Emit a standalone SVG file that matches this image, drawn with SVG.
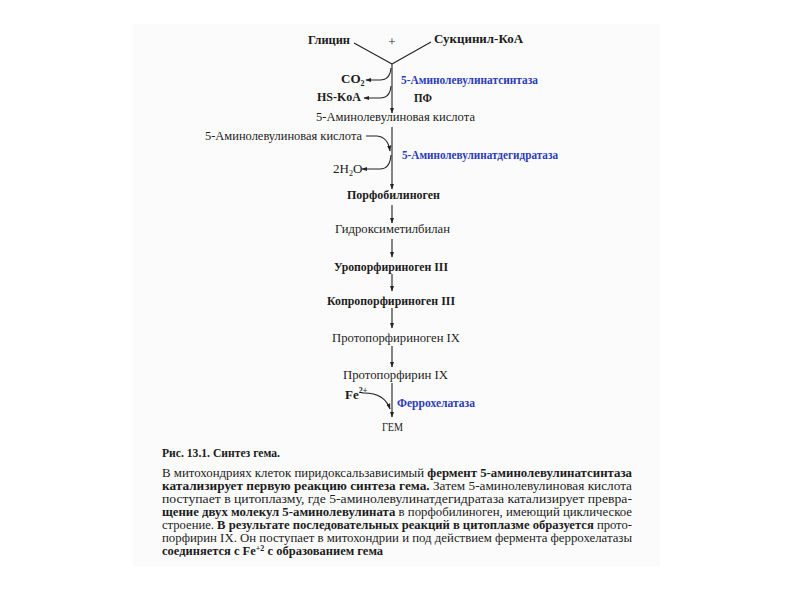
<svg xmlns="http://www.w3.org/2000/svg" width="800" height="600" viewBox="0 0 800 600">
<defs>
<marker id="ah" viewBox="0 0 10 10" refX="9" refY="5" markerWidth="6" markerHeight="6" orient="auto" markerUnits="userSpaceOnUse">
<path d="M0,1.5 L10,5 L0,8.5 Z" fill="#222"/>
</marker>
<style>
text{font-family:"Liberation Serif","DejaVu Serif",serif;fill:#1c1c1c}
.n{font-size:13px}
.b{font-weight:bold}
.blue{fill:#2b3cb6;font-weight:bold;font-size:13px}
.p{font-size:12.5px}
.c{fill:none;stroke:#222;stroke-width:1.1}
.a{marker-end:url(#ah)}
</style>
</defs>
<rect width="800" height="600" fill="#ffffff"/>
<rect x="133" y="24" width="527" height="542" fill="#fbfbfb"/>

<g id="connectors">
<path class="c" d="M354,43 L392,64"/>
<path class="c" d="M431,42 L392,64"/>
<path class="c a" d="M392,64 L392,113"/>
<path class="c a" d="M391,68 Q390,80 380,80 L366,80"/>
<path class="c a" d="M391,86 Q390,98 380,98 L364,98"/>
<path class="c a" d="M392,127 L392,189"/>
<path class="c a" d="M366,136 L377,136 Q388,137 390,151"/>
<path class="c a" d="M391,155 Q390,169 380,169 L362,169"/>
<path class="c a" d="M392,205 L392,223"/>
<path class="c a" d="M392,239 L392,257"/>
<path class="c a" d="M392,274 L392,291"/>
<path class="c a" d="M392,308 L392,328"/>
<path class="c a" d="M392,346 L392,367"/>
<path class="c a" d="M392,383 L392,417"/>
<path class="c a" d="M362,393 Q384,392 390,409"/>
</g>

<g id="glycine"><text class="n b" x="308" y="44" textLength="42" lengthAdjust="spacingAndGlyphs">Глицин</text></g>
<g id="plus"><text class="n" x="392" y="46" text-anchor="middle">+</text></g>
<g id="succinyl"><text class="n b" x="434" y="43" textLength="89" lengthAdjust="spacingAndGlyphs">Сукцинил-КоА</text></g>
<g id="co2"><text class="n b" x="341" y="83">CO<tspan font-size="8" dy="3">2</tspan></text></g>
<g id="enz1"><text class="blue" x="401" y="84" textLength="137" lengthAdjust="spacingAndGlyphs">5-Аминолевулинатсинтаза</text></g>
<g id="hskoa"><text class="n b" x="317" y="101" textLength="44" lengthAdjust="spacingAndGlyphs">HS-KoA</text></g>
<g id="pf"><text class="n b" x="414" y="102" textLength="18" lengthAdjust="spacingAndGlyphs">ПФ</text></g>
<g id="ala"><text class="n" x="316" y="121" textLength="159" lengthAdjust="spacingAndGlyphs">5-Аминолевулиновая кислота</text></g>
<g id="ala2"><text class="n" x="205" y="140" textLength="157" lengthAdjust="spacingAndGlyphs">5-Аминолевулиновая кислота</text></g>
<g id="enz2"><text class="blue" x="402" y="159" textLength="156" lengthAdjust="spacingAndGlyphs">5-Аминолевулинатдегидратаза</text></g>
<g id="water"><text class="n" x="333" y="173">2H<tspan font-size="8" dy="3">2</tspan><tspan dy="-3">O</tspan></text></g>
<g id="pbg"><text class="n b" x="347" y="199" textLength="93" lengthAdjust="spacingAndGlyphs">Порфобилиноген</text></g>
<g id="hmb"><text class="n" x="335" y="233" textLength="115" lengthAdjust="spacingAndGlyphs">Гидроксиметилбилан</text></g>
<g id="uro"><text class="n b" x="334" y="271" textLength="114" lengthAdjust="spacingAndGlyphs">Уропорфириноген III</text></g>
<g id="copro"><text class="n b" x="327" y="305" textLength="128" lengthAdjust="spacingAndGlyphs">Копропорфириноген III</text></g>
<g id="protogen"><text class="n" x="332" y="342" textLength="128" lengthAdjust="spacingAndGlyphs">Протопорфириноген IX</text></g>
<g id="proto"><text class="n" x="343" y="379" textLength="105" lengthAdjust="spacingAndGlyphs">Протопорфирин IX</text></g>
<g id="fe"><text class="n b" x="345" y="399">Fe<tspan font-size="8" dy="-6">2+</tspan></text></g>
<g id="enz3"><text class="blue" x="397" y="407" textLength="78" lengthAdjust="spacingAndGlyphs">Феррохелатаза</text></g>
<g id="heme"><text class="n" x="382" y="431" textLength="21" lengthAdjust="spacingAndGlyphs">ГЕМ</text></g>

<g id="caption">
<text class="p b" x="162" y="457" textLength="118" lengthAdjust="spacingAndGlyphs">Рис. 13.1. Синтез гема.</text>
<text class="p" x="162" y="477" textLength="470" lengthAdjust="spacingAndGlyphs">В митохондриях клеток пиридоксальзависимый <tspan font-weight="bold">фермент 5-аминолевулинатсинтаза</tspan></text>
<text class="p" x="162" y="490" textLength="470" lengthAdjust="spacingAndGlyphs"><tspan font-weight="bold">катализирует первую реакцию синтеза гема.</tspan> Затем 5-аминолевулиновая кислота</text>
<text class="p" x="162" y="503" textLength="470" lengthAdjust="spacingAndGlyphs">поступает в цитоплазму, где 5-аминолевулинатдегидратаза катализирует превра-</text>
<text class="p" x="162" y="516" textLength="470" lengthAdjust="spacingAndGlyphs"><tspan font-weight="bold">щение двух молекул 5-аминолевулината</tspan> в порфобилиноген, имеющий циклическое</text>
<text class="p" x="162" y="529" textLength="470" lengthAdjust="spacingAndGlyphs">строение. <tspan font-weight="bold">В результате последовательных реакций в цитоплазме образуется</tspan> прото-</text>
<text class="p" x="162" y="542" textLength="470" lengthAdjust="spacingAndGlyphs">порфирин IX. Он поступает в митохондрии и под действием фермента феррохелатазы</text>
<text class="p" x="162" y="555"><tspan font-weight="bold">соединяется с Fe<tspan font-size="8" dy="-4">+2</tspan><tspan dy="4"> с образованием гема</tspan></tspan></text>
</g>
</svg>
